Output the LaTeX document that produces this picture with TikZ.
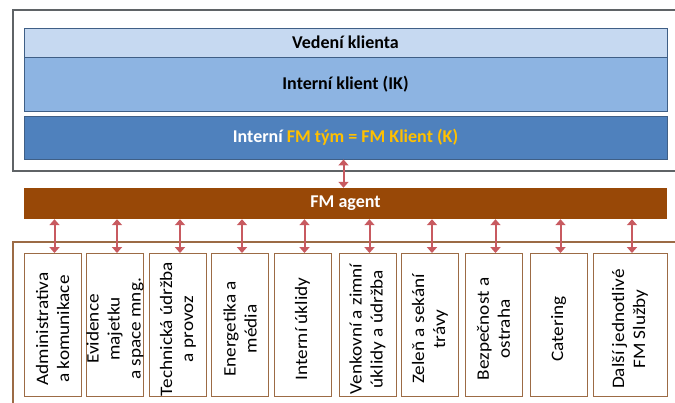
\documentclass[tikz,border=0pt]{standalone}
\usepackage{fontspec}
\setmainfont{Carlito}
\usetikzlibrary{arrows.meta}
\definecolor{lightblue}{HTML}{C6D9F1}
\definecolor{midblue}{HTML}{8DB4E2}
\definecolor{darkblue}{HTML}{4F81BD}
\definecolor{edgeblue}{HTML}{3F5F86}
\definecolor{agentbrown}{HTML}{984807}
\definecolor{boxbrown}{HTML}{9C6B45}
\definecolor{arrowred}{HTML}{C85A60}
\definecolor{fmgold}{HTML}{FFC000}
\definecolor{framegrey}{HTML}{5F6366}
\tikzset{
  layer/.style={draw=edgeblue, line width=0.9pt, minimum width=643pt, inner sep=0pt},
  service/.style={draw=boxbrown, line width=0.9pt, fill=white, minimum width=57pt,
    minimum height=143pt, inner sep=0pt},
  servicetext/.style={rotate=90, xscale=1.1, align=center,
    font=\fontsize{17.5}{21}\selectfont},
  link/.style={draw=arrowred, line width=2pt,
    {Triangle[length=6pt,width=10pt]}-{Triangle[length=6pt,width=10pt]}},
}
\begin{document}
\begin{tikzpicture}[x=1pt,y=-1pt]
\useasboundingbox (0,0) rectangle (675,403);
\clip (0,0) rectangle (675,403);
\fill[white] (0,0) rectangle (675,403);

% client side frame and layers
\draw[framegrey, line width=1.2pt] (13,10) rectangle (700,171);
\node[layer, fill=lightblue, minimum height=29pt] (vedeni) at (345.5,42.5) {};
\node[layer, fill=midblue, minimum height=54pt] (ik) at (345.5,84) {};
\node[layer, fill=darkblue, minimum height=43pt] (tym) at (345.5,137.5) {};
\node[font=\fontsize{18}{21}\selectfont\bfseries] at (vedeni.center) {Vedení klienta};
\node[font=\fontsize{18}{21}\selectfont\bfseries] at (ik.center) {Interní klient (IK)};
\node[font=\fontsize{18}{21}\selectfont\bfseries] at (tym.center)
  {\textcolor{white}{Interní} \textcolor{fmgold}{FM tým = FM Klient (K)}};

% FM agent bar
\node[fill=agentbrown, minimum width=643pt, minimum height=31pt, inner sep=0pt,
  text=white, font=\fontsize{18}{21}\selectfont\bfseries] (agent) at (345.5,203.5) {FM agent};

% service side frame
\draw[boxbrown, line width=1.2pt] (13,420) -- (13,242) -- (700,242);

% individual services
\node[service] (b1) at (52.5,325) {};
\node[service] (b2) at (115,325) {};
\node[service] (b3) at (178,325) {};
\node[service] (b4) at (240,325) {};
\node[service] (b5) at (302.5,325) {};
\node[service] (b6) at (367.5,325) {};
\node[service] (b7) at (430,325) {};
\node[service] (b8) at (493.5,325) {};
\node[service] (b9) at (558.5,325) {};
\node[service, minimum width=74pt] (b10) at (630,325) {};

\node[servicetext] at ([yshift=-4pt]b1.center) {Administrativa\\a komunikace};
\node[servicetext] at ([yshift=-4pt]b2.center) {Evidence\\majetku\\a space mng.};
\node[servicetext] at ([yshift=-4pt]b3.center) {Technická údržba\\a provoz};
\node[servicetext] at ([yshift=-4pt]b4.center) {Energetika a\\média};
\node[servicetext] at ([yshift=-4pt]b5.center) {Interní úklidy};
\node[servicetext] at ([yshift=-4pt]b6.center) {Venkovní a zimní\\úklidy a údržba};
\node[servicetext] at ([yshift=-4pt]b7.center) {Zeleň a sekání\\trávy};
\node[servicetext] at ([yshift=-4pt]b8.center) {Bezpečnost a\\ostraha};
\node[servicetext] at ([yshift=-4pt]b9.center) {Catering};
\node[servicetext] at ([yshift=-4pt]b10.center) {Další jednotlivé\\FM Služby};

% links
\draw[link] ([xshift=-2pt]tym.south) -- ([xshift=-2pt]tym.south |- agent.north);
\foreach \b in {b1,b2,b3,b4,b5,b6,b7,b8,b9,b10}
  \draw[link] ([xshift=2pt]\b.north) -- ([xshift=2pt]\b.north |- agent.south);
\end{tikzpicture}
\end{document}
